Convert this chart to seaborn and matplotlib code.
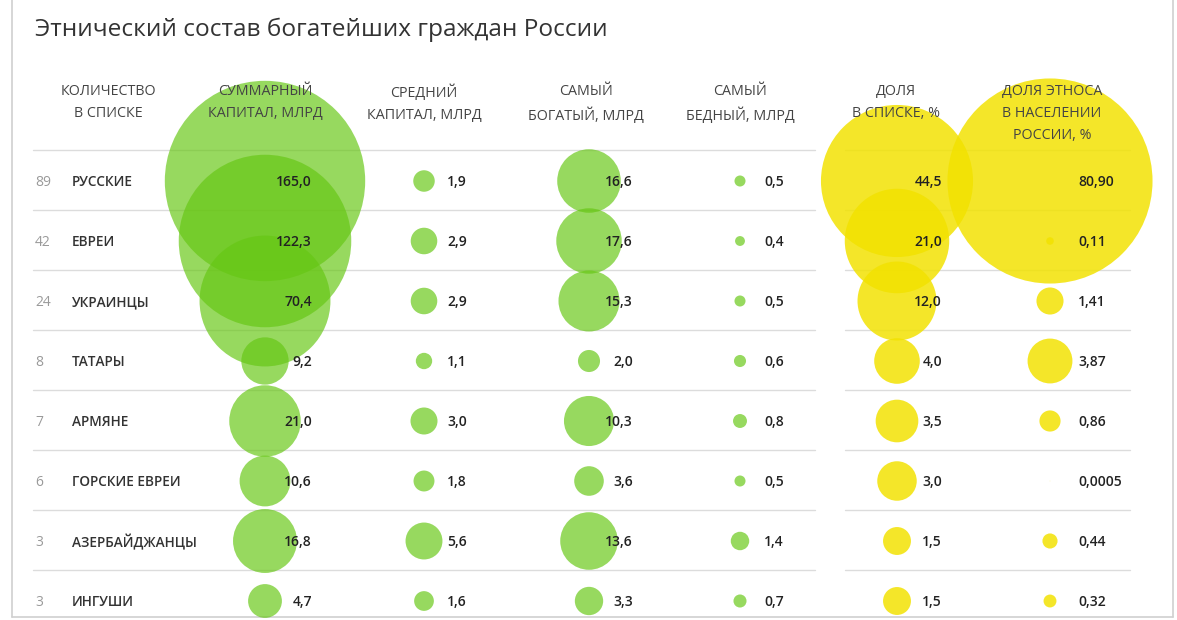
import numpy as np
import pandas as pd
import matplotlib
matplotlib.use("Agg")
import matplotlib.pyplot as plt
from matplotlib import font_manager
import seaborn as sns

# ---------------- data ----------------
title = "Этнический состав богатейших граждан России"
counts = [89, 42, 24, 8, 7, 6, 3, 3]
groups = ["РУССКИЕ", "ЕВРЕИ", "УКРАИНЦЫ", "ТАТАРЫ", "АРМЯНЕ",
          "ГОРСКИЕ ЕВРЕИ", "АЗЕРБАЙДЖАНЦЫ", "ИНГУШИ"]
total_capital = [165.0, 122.3, 70.4, 9.2, 21.0, 10.6, 16.8, 4.7]
avg_capital = [1.9, 2.9, 2.9, 1.1, 3.0, 1.8, 5.6, 1.6]
richest = [16.6, 17.6, 15.3, 2.0, 10.3, 3.6, 13.6, 3.3]
poorest = [0.5, 0.4, 0.5, 0.6, 0.8, 0.5, 1.4, 0.7]
share_list = [44.5, 21.0, 12.0, 4.0, 3.5, 3.0, 1.5, 1.5]
share_population = [80.90, 0.11, 1.41, 3.87, 0.86, 0.0005, 0.44, 0.32]
headers = ["КОЛИЧЕСТВО\nВ СПИСКЕ", "СУММАРНЫЙ\nКАПИТАЛ, МЛРД", "СРЕДНИЙ\nКАПИТАЛ, МЛРД",
           "САМЫЙ\nБОГАТЫЙ, МЛРД", "САМЫЙ\nБЕДНЫЙ, МЛРД", "ДОЛЯ\nВ СПИСКЕ, %",
           "ДОЛЯ ЭТНОСА\nВ НАСЕЛЕНИИ\nРОССИИ, %"]

# ---------------- styling / layout ----------------
sns.set_theme(style="white")


def has_font(name):
    try:
        font_manager.findfont(name, fallback_to_default=False)
        return True
    except Exception:
        return False


base_font = "Open Sans" if has_font("Open Sans") else "DejaVu Sans"
narrow_font = "Liberation Sans Narrow" if has_font("Liberation Sans Narrow") else base_font
plt.rcParams["font.family"] = [base_font, "DejaVu Sans"]

W, H = 1177, 620
fig = plt.figure(figsize=(W / 100, H / 100), dpi=100)
ax = fig.add_axes([0, 0, 1, 1])
ax.set_xlim(0, W)
ax.set_ylim(H, 0)
ax.axis("off")

GREEN = (0.40, 0.78, 0.08)
YELLOW = (0.95, 0.885, 0.0)
row_y0, row_h = 181, 60
row_ys = [row_y0 + row_h * i for i in range(len(groups))]


# pixel -> points^2 marker area factor (area proportional to value)
def area_per_unit(px_per_sqrt):
    return (2 * px_per_sqrt * 72 / 100) ** 2


columns = [
    # values, centre x, colour, px per sqrt(unit), text x, align, label fmt
    (total_capital, 265, GREEN, 7.8, 312, "right", lambda v: f"{v:.1f}"),
    (avg_capital, 424, GREEN, 7.8, 447, "left", lambda v: f"{v:.1f}"),
    (richest, 589, GREEN, 7.8, 633, "right", lambda v: f"{v:.1f}"),
    (poorest, 740, GREEN, 7.8, 784, "right", lambda v: f"{v:.1f}"),
    (share_list, 897, YELLOW, 11.4, 942, "right", lambda v: f"{v:.1f}"),
    (share_population, 1050, YELLOW, 11.4, 1078, "left",
     lambda v: f"{v:.2f}" if v >= 0.01 else f"{v:.4f}"),
]
header_x = [108, 265, 424, 586, 740, 896, 1052]

# separators
for k in range(len(groups)):
    y = 150 + row_h * k
    ax.plot([33, 815], [y, y], color="#dcdcdc", lw=1, zorder=1)
    ax.plot([845, 1130], [y, y], color="#dcdcdc", lw=1, zorder=1)

# frame
ax.plot([12, 12], [0, 617], color="#d0d0d0", lw=1.2, zorder=0)
ax.plot([1173, 1173], [0, 617], color="#d0d0d0", lw=1.2, zorder=0)
ax.plot([12, 1173], [617, 617], color="#d0d0d0", lw=1.2, zorder=0)

# bubbles
for vals, cx, col, k, tx, ha, fmt in columns:
    df = pd.DataFrame({"x": [cx] * len(vals), "y": row_ys, "v": vals})
    vmax = max(vals)
    sns.scatterplot(data=df, x="x", y="y", size="v",
                    sizes=(0, area_per_unit(k) * vmax), size_norm=(0, vmax),
                    color=col, alpha=0.68 if col == GREEN else 0.84,
                    linewidth=0, legend=False, ax=ax, zorder=2)
    for v, y in zip(vals, row_ys):
        ax.text(tx, y + 1, fmt(v).replace(".", ","), ha=ha, va="center",
                fontsize=10, color="#222222", fontweight="semibold", zorder=5)

# left columns
for c, g, y in zip(counts, groups, row_ys):
    ax.text(35, y + 1.5, str(c), ha="left", va="center", fontsize=10, color="#9a9a9a", zorder=5)
    ax.text(72, y + 1, g, ha="left", va="center", fontsize=9.8, color="#333333",
            fontweight="semibold", zorder=5)

# headers
for hx, htxt in zip(header_x, headers):
    ax.text(hx, 84, htxt, ha="center", va="top", fontsize=10.3, color="#444444",
            family=[narrow_font, "DejaVu Sans"], linespacing=1.65, zorder=5)

# title
ax.text(35, 30, title, ha="left", va="center", fontsize=17.6, color="#333333", zorder=5)

fig.savefig("out.png", dpi=100)
